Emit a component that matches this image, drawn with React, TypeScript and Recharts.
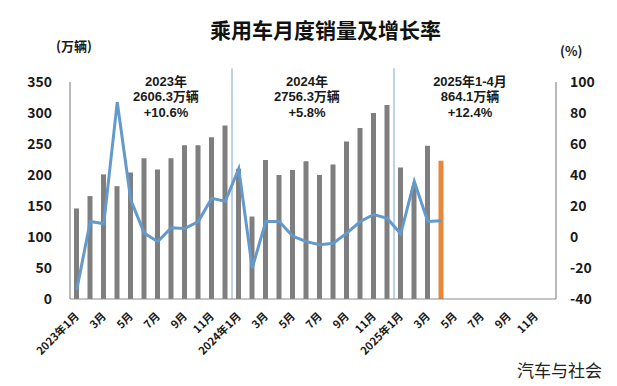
import React from 'react'
import {
  ComposedChart,
  Bar,
  Line,
  XAxis,
  YAxis,
  Cell,
  ReferenceLine
} from 'recharts'

// 乘用车月度销量及增长率 2023.1 - 2025.4

const months = [
  '2023年1月', '2023年2月', '2023年3月', '2023年4月', '2023年5月', '2023年6月',
  '2023年7月', '2023年8月', '2023年9月', '2023年10月', '2023年11月', '2023年12月',
  '2024年1月', '2024年2月', '2024年3月', '2024年4月', '2024年5月', '2024年6月',
  '2024年7月', '2024年8月', '2024年9月', '2024年10月', '2024年11月', '2024年12月',
  '2025年1月', '2025年2月', '2025年3月', '2025年4月', '2025年5月', '2025年6月',
  '2025年7月', '2025年8月', '2025年9月', '2025年10月', '2025年11月', '2025年12月'
]

const tickLabels = [
  '2023年1月', '', '3月', '', '5月', '', '7月', '', '9月', '', '11月', '',
  '2024年1月', '', '3月', '', '5月', '', '7月', '', '9月', '', '11月', '',
  '2025年1月', '', '3月', '', '5月', '', '7月', '', '9月', '', '11月', ''
]

// 销量（万辆）
const sales = [
  146, 166, 201, 182, 204, 227, 209, 227, 248, 248, 261, 280,
  210, 133, 224, 200, 208, 222, 200, 217, 254, 276, 300, 313,
  212, 181, 247, 223
]

// 同比增长（%）
const growth = [
  -34, 10, 8.5, 87, 24, 2.5, -3, 6, 5.5, 10, 25, 23,
  44, -20, 10, 10, 0.5, -3, -5, -4, 2.5, 10, 14.5, 12,
  2, 36, 10, 10.5
]

const leftTicks = [0, 50, 100, 150, 200, 250, 300, 350]
const rightTicks = [-40, -20, 0, 20, 40, 60, 80, 100]

const yearNotes = [
  { x: 166, lines: ['2023年', '2606.3万辆', '+10.6%'] },
  { x: 307, lines: ['2024年', '2756.3万辆', '+5.8%'] },
  { x: 470, lines: ['2025年1-4月', '864.1万辆', '+12.4%'] }
]

const FONT = '"Noto Sans CJK SC", "Noto Sans", sans-serif'
const NOTE_FONT = '"Liberation Sans", "Noto Sans CJK SC", sans-serif'
const AXIS_GRAY = '#8c8c8c'
const BAR_GRAY = '#7f7f7f'
const ORANGE = '#e8873a'
const LINE_BLUE = '#6499cc'
const SEP_BLUE = '#8fb4da'

const data = months.map((m, i) => ({
  month: m,
  sales: i < sales.length ? sales[i] : null,
  growth: i < growth.length ? growth[i] : null
}))

const XTick = ({ x, y, payload }: any) => {
  const label = tickLabels[months.indexOf(payload.value)]
  if (!label) return null
  const tx = x + 3
  const ty = y + 18
  return (
    <text
      x={tx}
      y={ty}
      transform={`rotate(-45 ${tx} ${ty})`}
      textAnchor="end"
      fontFamily={FONT}
      fontSize={11}
      fontWeight={700}
      fill="#1a1a1a"
    >
      {label}
    </text>
  )
}

const tickStyle = { fontFamily: FONT, fontSize: 14, fontWeight: 700, fill: '#1a1a1a' }

export default function App() {
  return (
    <div style={{ position: 'absolute', left: 0, top: 0, width: 617, height: 386, background: '#fff', fontFamily: FONT }}>
      <div style={{ position: 'absolute', left: 0, width: 651, top: 16, textAlign: 'center', fontSize: 21, fontWeight: 700, color: '#111', lineHeight: '26px' }}>
        乘用车月度销量及增长率
      </div>
      <div style={{ position: 'absolute', left: 56, top: 38, fontSize: 13, fontWeight: 700, color: '#1a1a1a', lineHeight: '16px' }}>
        (万辆)
      </div>
      <div style={{ position: 'absolute', left: 560, top: 43, fontSize: 13, fontWeight: 700, color: '#1a1a1a', lineHeight: '16px' }}>
        (%)
      </div>

      <ComposedChart
        width={617}
        height={386}
        data={data}
        margin={{ top: 82, right: 21, bottom: 27, left: 30 }}
      >
        <XAxis
          dataKey="month"
          type="category"
          interval={0}
          height={60}
          tickLine={false}
          tickSize={0}
          tickMargin={0}
          axisLine={{ stroke: AXIS_GRAY, strokeWidth: 1.2 }}
          tick={<XTick />}
        />
        <YAxis
          yAxisId="left"
          orientation="left"
          width={40}
          domain={[0, 350]}
          ticks={leftTicks}
          interval={0}
          tickLine={false}
          tickSize={0}
          tickMargin={18}
          axisLine={{ stroke: AXIS_GRAY, strokeWidth: 1.2 }}
          tick={tickStyle}
        />
        <YAxis
          yAxisId="right"
          orientation="right"
          width={40}
          domain={[-40, 100]}
          ticks={rightTicks}
          interval={0}
          tickLine={false}
          tickSize={0}
          tickMargin={14}
          axisLine={{ stroke: AXIS_GRAY, strokeWidth: 1.2 }}
          tick={{ ...tickStyle, textAnchor: 'start' }}
        />

        <ReferenceLine
          yAxisId="left"
          segment={[{ x: '2024年1月', y: 0 }, { x: '2024年1月', y: 372 }]}
          position="start"
          stroke={SEP_BLUE}
          strokeWidth={1.2}
          ifOverflow="visible"
        />
        <ReferenceLine
          yAxisId="left"
          segment={[{ x: '2025年1月', y: 0 }, { x: '2025年1月', y: 372 }]}
          position="start"
          stroke={SEP_BLUE}
          strokeWidth={1.2}
          ifOverflow="visible"
        />

        <Bar yAxisId="left" dataKey="sales" barSize={5} fill={BAR_GRAY} isAnimationActive={false}>
          {data.map((d, i) => (
            <Cell key={i} fill={i === sales.length - 1 ? ORANGE : BAR_GRAY} />
          ))}
        </Bar>
        <Line
          yAxisId="right"
          dataKey="growth"
          type="linear"
          stroke={LINE_BLUE}
          strokeWidth={3}
          dot={false}
          activeDot={false}
          isAnimationActive={false}
        />
      </ComposedChart>

      {yearNotes.map((n, i) =>
        n.lines.map((l, j) => (
          <div
            key={`${i}-${j}`}
            style={{
              position: 'absolute',
              left: n.x - 70,
              width: 140,
              top: 74.5 + j * 15.5,
              textAlign: 'center',
              fontFamily: NOTE_FONT,
              fontSize: 13,
              fontWeight: 700,
              lineHeight: '13px',
              whiteSpace: 'nowrap',
              color: '#1a1a1a'
            }}
          >
            {l}
          </div>
        ))
      )}

      <div style={{ position: 'absolute', left: 517, top: 360, fontSize: 17, color: '#222', lineHeight: '20px' }}>
        汽车与社会
      </div>
    </div>
  )
}
